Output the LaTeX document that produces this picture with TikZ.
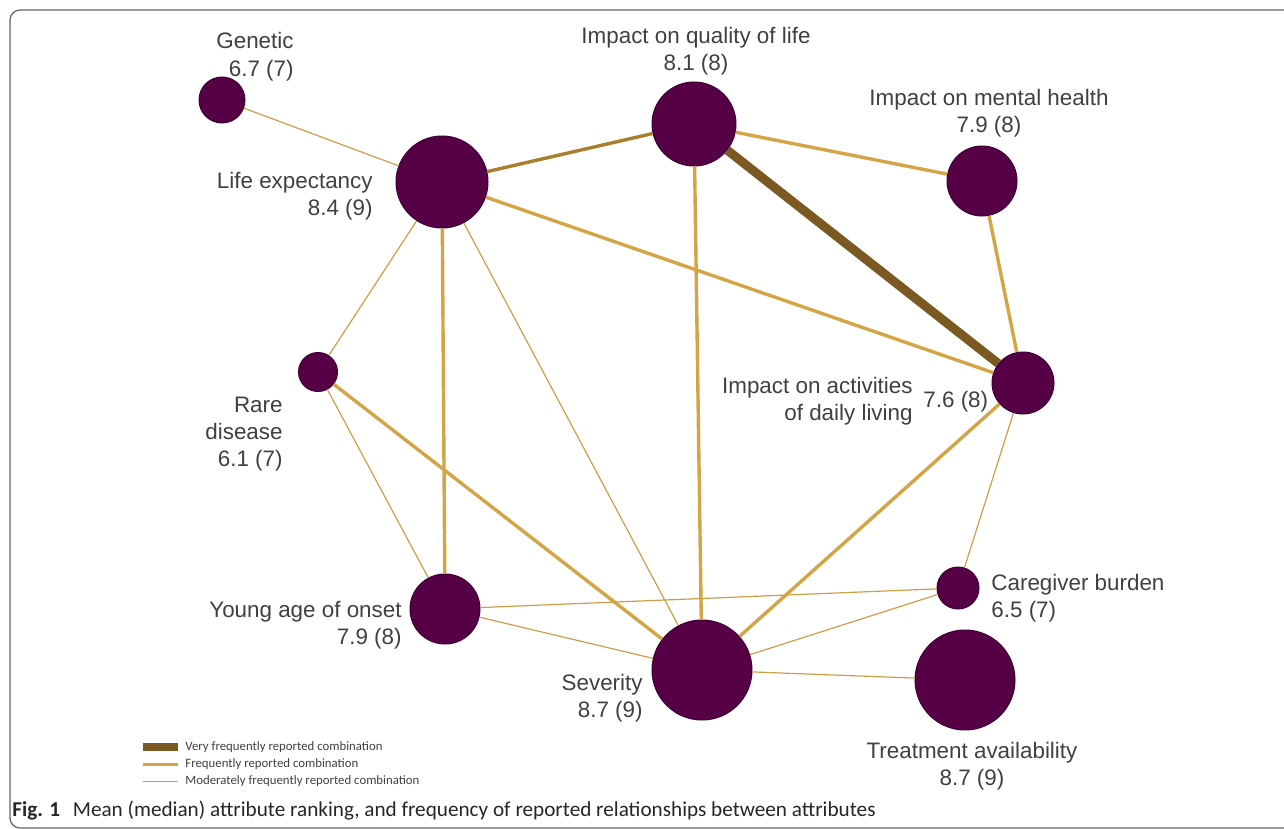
\documentclass[tikz,border=0pt]{standalone}
\usepackage{fontspec}
\setmainfont{Liberation Sans}
\newfontfamily\capfont{Carlito}
\usepackage{tikz}
\usetikzlibrary{shapes,arrows,positioning,calc}
\definecolor{attrpurple}{RGB}{86,0,70}
\definecolor{attrborder}{RGB}{62,0,52}
\definecolor{vfreqcol}{RGB}{122,90,34}
\definecolor{freqcol}{RGB}{211,165,70}
\definecolor{freqdark}{RGB}{170,126,44}
\definecolor{modcol}{RGB}{205,158,72}
\definecolor{labelgrey}{RGB}{64,64,64}
\definecolor{framegrey}{RGB}{100,100,100}

\tikzset{
  attr/.style={circle, fill=attrpurple, draw=attrborder, line width=0.5pt, inner sep=0pt},
  lbl/.style={text=labelgrey, font=\fontsize{11.2}{13.5}\selectfont, inner sep=0pt},
  leg/.style={text=labelgrey, font=\capfont\fontsize{6.4}{7.5}\selectfont, inner sep=0pt},
  vfreq/.style={draw=vfreqcol, line width=4.5pt},
  freq/.style={draw=freqcol, line width=1.7pt},
  modfreq/.style={draw=modcol, line width=0.6pt},
}

\begin{document}
\begin{tikzpicture}[x=0.5pt, y=-0.5pt]
  \useasboundingbox (0,0) rectangle (1284,829);
  \draw [framegrey, line width=0.6pt, rounded corners=5pt] (1290,10) -- (10,10) -- (10,828) -- (1290,828);

  \node (genetic) [attr, minimum size=23pt] at (222,100) {};
  \node (life) [attr, minimum size=46pt] at (442,182) {};
  \node (qol) [attr, minimum size=42pt] at (694,124) {};
  \node (mental) [attr, minimum size=35pt] at (982,181) {};
  \node (adl) [attr, minimum size=31pt] at (1023,383) {};
  \node (rare) [attr, minimum size=19.5pt] at (318,372) {};
  \node (young) [attr, minimum size=35pt] at (445,609) {};
  \node (severity) [attr, minimum size=50pt] at (702,670) {};
  \node (caregiver) [attr, minimum size=21pt] at (958,588) {};
  \node (treatment) [attr, minimum size=50pt] at (965,680) {};

  \draw [vfreq] (qol) -- (adl);
  \draw [freq, draw=freqdark] (life) -- (qol);
  \draw [freq] (qol) -- (mental);
  \draw [freq] (mental) -- (adl);
  \draw [freq] (life) -- (adl);
  \draw [freq] (life) -- (young);
  \draw [freq] (qol) -- (severity);
  \draw [freq] (rare) -- (severity);
  \draw [freq] (adl) -- (severity);
  \draw [modfreq] (genetic) -- (life);
  \draw [modfreq] (life) -- (rare);
  \draw [modfreq] (life) -- (severity);
  \draw [modfreq] (rare) -- (young);
  \draw [modfreq] (young) -- (caregiver);
  \draw [modfreq] (young) -- (severity);
  \draw [modfreq] (severity) -- (caregiver);
  \draw [modfreq] (adl) -- (caregiver);
  \draw [modfreq] (severity) -- (treatment);

  \node (geneticlbl) [lbl, align=right, anchor=base east] at (294,76) {Genetic\\6.7 (7)};
  \node (qollbl) [lbl, align=center, anchor=base] at (696,71) {Impact on quality of life\\8.1 (8)};
  \node (mentallbl) [lbl, align=center, anchor=base] at (989,133) {Impact on mental health\\7.9 (8)};
  \node (lifelbl) [lbl, align=right, anchor=base east] at (373,215) {Life expectancy\\8.4 (9)};
  \node (adllbl) [lbl, align=right, anchor=base east] at (913,420) {Impact on activities\\of daily living};
  \node (adlval) [lbl, anchor=base west] at (923,407) {7.6 (8)};
  \node (rarelbl) [lbl, align=right, anchor=base east] at (283,466) {Rare\\disease\\6.1 (7)};
  \node (younglbl) [lbl, align=right, anchor=base east] at (402,644) {Young age of onset\\7.9 (8)};
  \node (severitylbl) [lbl, align=right, anchor=base east] at (643,717) {Severity\\8.7 (9)};
  \node (carelbl) [lbl, align=left, anchor=base west] at (991,617) {Caregiver burden\\6.5 (7)};
  \node (treatlbl) [lbl, align=center, anchor=base] at (972,785) {Treatment availability\\8.7 (9)};

  \coordinate (vfstart) at (143,747);
  \coordinate (vfend) at (178,747);
  \coordinate (fstart) at (143,764);
  \coordinate (fend) at (178,764);
  \coordinate (mstart) at (143,781);
  \coordinate (mend) at (178,781);
  \draw [vfreq, line width=4pt] (vfstart) -- (vfend);
  \draw [freq, line width=1.5pt] (fstart) -- (fend);
  \draw [modfreq, line width=0.5pt] (mstart) -- (mend);
  \node (vflbl) [leg, right=3.5pt of vfend] {Very frequently reported combination};
  \node (flbl) [leg, right=3.5pt of fend] {Frequently reported combination};
  \node (mlbl) [leg, right=3.5pt of mend] {Moderately frequently reported combination};

  \node (caption) [anchor=base west, inner sep=0pt, text=black!85, font=\capfont\fontsize{10.6}{12}\selectfont] at (12,816) {\textbf{Fig. 1}\hspace{0.6em}Mean (median) attribute ranking, and frequency of reported relationships between attributes};
\end{tikzpicture}
\end{document}
